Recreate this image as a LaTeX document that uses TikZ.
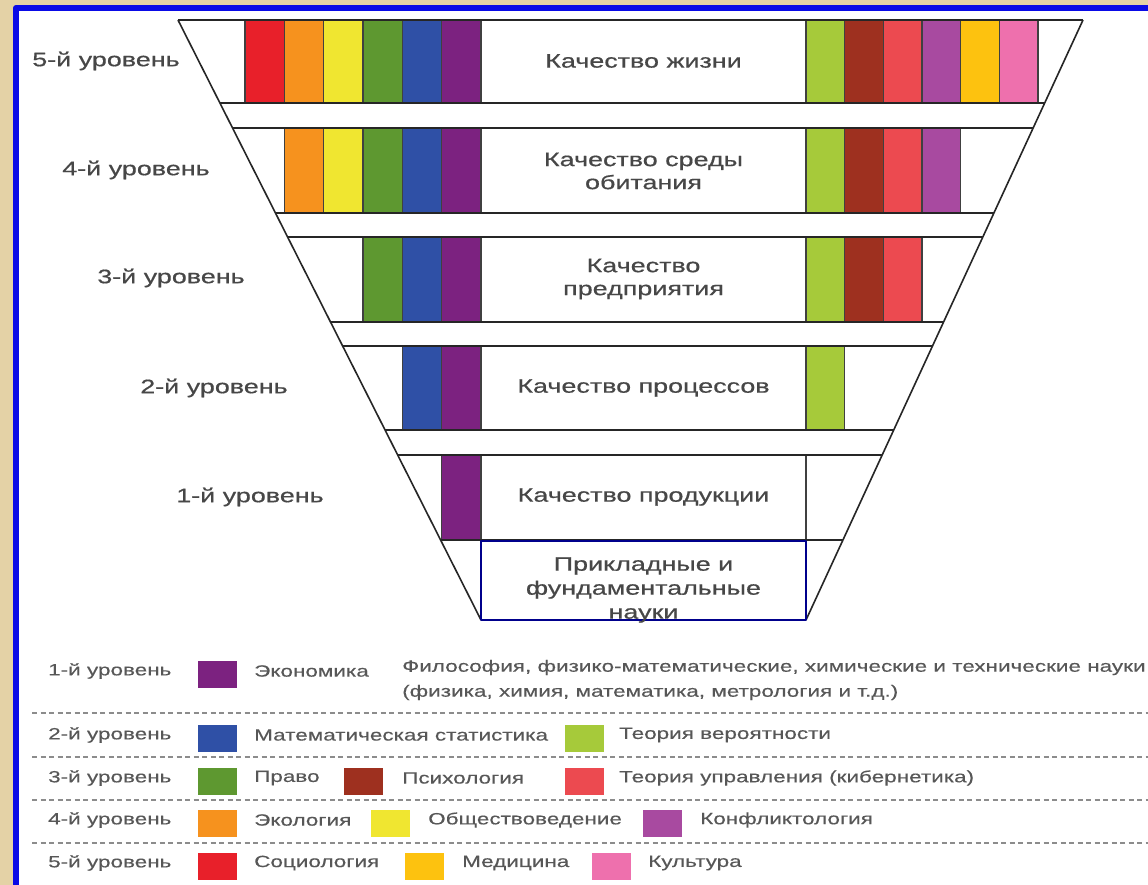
\documentclass[tikz,border=0pt]{standalone}
\usepackage{fontspec}
\setmainfont{Liberation Sans}[FakeStretch=1.38,FakeBold=0.3]
\newfontfamily\capfont{Liberation Sans}[FakeStretch=1.38,FakeBold=0.6]
\definecolor{bgbeige}{HTML}{E4D2A6}
\definecolor{frameblue}{HTML}{0A0AE6}
\definecolor{cRed}{HTML}{E8202A}
\definecolor{cOrange}{HTML}{F6921E}
\definecolor{cYellow}{HTML}{F0E630}
\definecolor{cGreen}{HTML}{5E9830}
\definecolor{cBlue}{HTML}{2F50A6}
\definecolor{cPurple}{HTML}{7C2280}
\definecolor{cLime}{HTML}{A6CA3A}
\definecolor{cBrown}{HTML}{9E301F}
\definecolor{cSalmon}{HTML}{EC4A50}
\definecolor{cViolet}{HTML}{A84AA0}
\definecolor{cGold}{HTML}{FDC20F}
\definecolor{cPink}{HTML}{EE70AD}
\colorlet{lc1}{cRed}\colorlet{lc2}{cOrange}\colorlet{lc3}{cYellow}
\colorlet{lc4}{cGreen}\colorlet{lc5}{cBlue}\colorlet{lc6}{cPurple}
\colorlet{rc1}{cLime}\colorlet{rc2}{cBrown}\colorlet{rc3}{cSalmon}
\colorlet{rc4}{cViolet}\colorlet{rc5}{cGold}\colorlet{rc6}{cPink}
\begin{document}
\begin{tikzpicture}[x=1pt,y=-1pt,line join=round,
	bar/.style={draw=black!75,line width=1.2pt},
	edge/.style={draw=black!85,line width=1.6pt},
	lvl/.style={text=black!72,font=\capfont\fontsize{19.5}{23}\selectfont,align=center},
	lg/.style={text=black!66,font=\fontsize{16.3}{25}\selectfont,anchor=west,inner sep=0pt},
	sw/.style={minimum width=39pt,minimum height=27pt,inner sep=0pt}]
	\useasboundingbox (0,0) rectangle (1148,885);
	% background and frame
	\fill[bgbeige] (0,0) rectangle (1148,885);
	\fill[white] (16,8) rectangle (1148,885);
	\draw[frameblue,line width=6pt] (16,885) -- (16,8) -- (1148,8);
	% coloured bars of the funnel
	\foreach \t/\b/\ls in {20/103/{1,2,3,4,5,6},128/213/{2,3,4,5,6},237/322/{4,5,6},346/430/{5,6},455/540/{6}}{
		\foreach \i in \ls
			\filldraw[bar,fill=lc\i] ({245+(\i-1)*39.33},\t) rectangle ({245+\i*39.33},\b);	}
	\foreach \t/\b/\rs in {20/103/{1,2,3,4,5,6},128/213/{1,2,3,4},237/322/{1,2,3},346/430/{1}}{
		\foreach \j in \rs
			\filldraw[bar,fill=rc\j] ({806+(\j-1)*38.67},\t) rectangle ({806+\j*38.67},\b);	}
	\draw[bar] (806,455) -- (806,540);
	% funnel outline
	\foreach \y in {20,103,128,213,237,322,346,430,455,540}
		\draw[edge] ({178+303/600*(\y-20)},\y) -- ({1083-277/600*(\y-20)},\y);
	\draw[edge] (178,20) -- (481,620);
	\draw[edge] (1083,20) -- (806,620);
	\draw[draw=blue!55!black,line width=1.2pt] (481,541) rectangle (806,620);
	% level names and qualities
	\node[lvl] (lvl5) at (106,61) {5-й уровень};
	\node[lvl] (lvl4) at (136,170) {4-й уровень};
	\node[lvl] (lvl3) at (171,278) {3-й уровень};
	\node[lvl] (lvl2) at (214,388) {2-й уровень};
	\node[lvl] (lvl1) at (250,497) {1-й уровень};
	\node[lvl] (q5) at (643.5,61) {Качество жизни};
	\node[lvl] (q4) at (643.5,171) {Качество среды\\обитания};
	\node[lvl] (q3) at (643.5,279) {Качество\\предприятия};
	\node[lvl] (q2) at (643.5,388) {Качество процессов};
	\node[lvl] (q1) at (643.5,497) {Качество продукции};
	\node[lvl,font=\capfont\fontsize{19.5}{24}\selectfont] (base) at (643.5,590) {Прикладные и\\фундаментальные\\науки};
	% legend
	\foreach \y in {713,757,800,843}
		\draw[black!45,line width=1.6pt,dash pattern=on 5pt off 3.5pt] (32,\y) -- (1148,\y);
	\foreach \n/\y/\c in {1/671/cPurple,2/735/cBlue,3/778/cGreen,4/820/cOrange,5/863/cRed}{
		\node[lg] (lg\n) at (48,\y) {\n-й уровень};
		\node[sw,fill=\c] (sw\n) at (217.5,\y+3) {};	}
	\node[lg] (ek) at (254,671) {Экономика};
	\node[lg,align=left] (fil) at (402,680) {Философия, физико-математические, химические и технические науки\\(физика, химия, математика, метрология и т.д.)};
	\node[lg] (mst) at (254,735) {Математическая статистика};
	\node[sw,fill=cLime] (swl) at (584,738) {};
	\node[lg] (tv) at (619,735) {Теория вероятности};
	\node[lg] (pr) at (254,778) {Право};
	\node[sw,fill=cBrown] (swb) at (363.5,781) {};
	\node[lg] (ps) at (402,778) {Психология};
	\node[sw,fill=cSalmon] (sws) at (584,781) {};
	\node[lg] (tu) at (619,778) {Теория управления (кибернетика)};
	\node[lg] (ec) at (254,820) {Экология};
	\node[sw,fill=cYellow] (swy) at (390.5,823) {};
	\node[lg] (ob) at (428,820) {Обществоведение};
	\node[sw,fill=cViolet] (swv) at (662.5,823) {};
	\node[lg] (kf) at (700,820) {Конфликтология};
	\node[lg] (so) at (254,863) {Социология};
	\node[sw,fill=cGold] (swg) at (424.5,866) {};
	\node[lg] (me) at (462,863) {Медицина};
	\node[sw,fill=cPink] (swp) at (611,866) {};
	\node[lg] (ku) at (648,863) {Культура};
\end{tikzpicture}
\end{document}
